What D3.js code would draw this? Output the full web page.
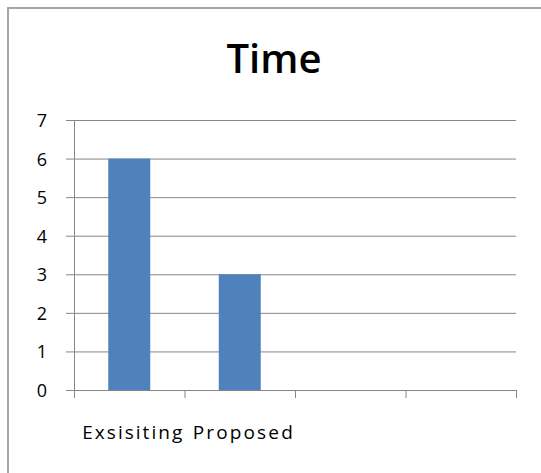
<!DOCTYPE html>
<html>
<head>
<meta charset="utf-8">
<script src="https://cdn.jsdelivr.net/npm/d3@7"></script>
<style>
  body { margin: 0; background: #fff; }
  svg { display: block; }
  .axis path, .axis line { stroke: #868686; }
  .grid line { stroke: #868686; }
  .grid path { display: none; }
</style>
</head>
<body>
<svg id="chart"></svg>
<script>
// chart data
const title = 'Time'
const categories = ['Exsisiting', 'Proposed', '', '']
const values = [6, 3, null, null]
const yTicks = [0, 1, 2, 3, 4, 5, 6, 7]

const width = 541
const height = 473
const margin = { top: 120, right: 25, bottom: 83, left: 74 }
const w = width - margin.left - margin.right
const h = height - margin.top - margin.bottom

const svg = d3.select('#chart')
  .attr('width', width)
  .attr('height', height)

// outer frame
svg.append('rect')
  .attr('x', 8)
  .attr('y', 8)
  .attr('width', width)
  .attr('height', height)
  .attr('fill', 'none')
  .attr('stroke', '#a6a6a6')
  .attr('stroke-width', 2)

svg.append('text')
  .attr('x', 274)
  .attr('y', 73)
  .attr('text-anchor', 'middle')
  .attr('font-family', 'Open Sans, sans-serif')
  .attr('font-weight', 600)
  .attr('font-size', 40)
  .attr('fill', '#000')
  .text(title)

const chart = svg.append('g')
  .attr('transform', `translate(${margin.left}, ${margin.top})`)

const x = d3.scaleBand()
  .domain(d3.range(categories.length))
  .range([0, w])
  .paddingInner(0.62)
  .paddingOuter(0.31)

const xEdge = d3.scaleLinear()
  .domain([0, categories.length])
  .range([0, w])

const y = d3.scaleLinear()
  .domain([0, d3.max(yTicks)])
  .range([h, 0])

// gridlines
chart.append('g')
  .attr('class', 'grid')
  .call(d3.axisLeft(y).tickValues(yTicks.slice(1)).tickSize(-w).tickFormat(''))

// bars
chart.selectAll('.bar')
  .data(values.map((v, i) => ({ i, v })).filter(d => d.v != null))
  .enter()
  .append('rect')
  .attr('class', 'bar')
  .attr('x', d => x(d.i))
  .attr('y', d => y(d.v))
  .attr('width', x.bandwidth())
  .attr('height', d => h - y(d.v))
  .attr('fill', '#4f81bd')

// y axis
const yAxis = chart.append('g')
  .attr('class', 'axis')
  .call(d3.axisLeft(y).tickValues(yTicks).tickSize(8).tickPadding(19).tickSizeOuter(0).tickFormat(d3.format('d')))
yAxis.selectAll('text')
  .attr('font-family', 'Open Sans, sans-serif')
  .attr('font-size', 18)
  .attr('fill', '#000')
  .attr('dy', '0.36em')

// x axis ticks at category boundaries
chart.append('g')
  .attr('class', 'axis')
  .attr('transform', `translate(0, ${h})`)
  .call(d3.axisBottom(xEdge).tickValues(d3.range(categories.length + 1)).tickSize(8).tickSizeOuter(0).tickFormat(''))

// category labels
chart.append('g')
  .selectAll('text')
  .data(categories.filter(d => d))
  .enter()
  .append('text')
  .attr('x', (d, i) => x(i) + x.bandwidth() / 2 + 3)
  .attr('y', h + 49)
  .attr('text-anchor', 'middle')
  .attr('font-family', 'Open Sans, sans-serif')
  .attr('font-size', 19)
  .attr('textLength', 100)
  .attr('lengthAdjust', 'spacing')
  .attr('fill', '#000')
  .text(d => d)
</script>
</body>
</html>
